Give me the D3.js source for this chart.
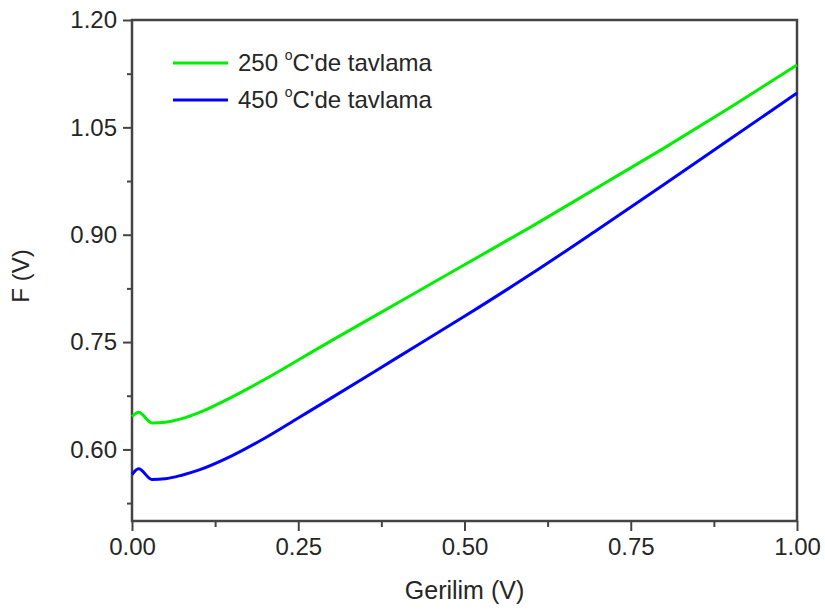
<!DOCTYPE html>
<html>
<head>
<meta charset="utf-8">
<script src="https://cdn.jsdelivr.net/npm/d3@7"></script>
<style>
  body { margin: 0; background: #fff; }
  svg text { font-family: "Liberation Sans", Arial, sans-serif; fill: #262626; }
</style>
</head>
<body>
<svg id="chart" width="825" height="613"></svg>
<script>
// data
var voltage = [0, 0.01, 0.03, 0.05, 0.075, 0.1, 0.15, 0.2, 0.25, 0.3, 0.4, 0.5, 0.6, 0.7, 0.8, 0.9, 1.0]
var f250 = [0.646, 0.652, 0.637, 0.638, 0.643, 0.651, 0.673, 0.698, 0.725, 0.752, 0.805, 0.858, 0.911, 0.966, 1.021, 1.078, 1.137]
var f450 = [0.565, 0.573, 0.558, 0.559, 0.564, 0.571, 0.591, 0.616, 0.644, 0.672, 0.729, 0.786, 0.845, 0.907, 0.970, 1.034, 1.098]
var seriesNames = ["250", "450"]
var xTicks = [0, 0.25, 0.5, 0.75, 1.0]
var xMinor = [0.125, 0.375, 0.625, 0.875]
var yTicks = [0.60, 0.75, 0.90, 1.05, 1.20]
var yMinor = [0.525, 0.675, 0.825, 0.975, 1.125]
var colors = ["#00ee00", "#0000ff"]

var svg = d3.select("#chart")
// plot box (window.top is taken, so plotTop etc.)
var plotLeft = 132, plotRight = 797, plotTop = 20, plotBottom = 521

var x = d3.scaleLinear().domain([0, 1]).range([plotLeft, plotRight])
var y = d3.scaleLinear().domain([0.5, 1.2]).range([plotBottom, plotTop])

// minor ticks first, majors on top
svg.append("g").attr("transform", "translate(0," + plotBottom + ")")
  .call(d3.axisBottom(x).tickValues(xMinor).tickSize(6).tickFormat(""))
svg.append("g").attr("transform", "translate(" + plotLeft + ",0)")
  .call(d3.axisLeft(y).tickValues(yMinor).tickSize(5).tickFormat(""))

svg.append("g").attr("transform", "translate(0," + plotBottom + ")")
  .call(d3.axisBottom(x).tickValues(xTicks).tickSize(10).tickPadding(7).tickFormat(d3.format(".2f")))
svg.append("g").attr("transform", "translate(" + plotLeft + ",0)")
  .call(d3.axisLeft(y).tickValues(yTicks).tickSize(9).tickPadding(6).tickFormat(d3.format(".2f")))

svg.selectAll(".domain").remove()
svg.selectAll(".tick line").attr("stroke", "#444").attr("stroke-width", 2)
svg.selectAll(".tick text").attr("font-size", 24).attr("fill", "#262626")

// frame
svg.append("rect")
  .attr("x", plotLeft).attr("y", plotTop)
  .attr("width", plotRight - plotLeft).attr("height", plotBottom - plotTop)
  .attr("fill", "none").attr("stroke", "#444").attr("stroke-width", 2.5)

var line = d3.line()
  .x(function(d) { return x(d[0]) })
  .y(function(d) { return y(d[1]) })
  .curve(d3.curveMonotoneX)

var series = [f250, f450]
series.forEach(function(vals, i) {
  svg.append("path")
    .datum(voltage.map(function(v, j) { return [v, vals[j]] }))
    .attr("d", line)
    .attr("fill", "none")
    .attr("stroke", colors[i])
    .attr("stroke-width", 3)
})

// legend
var legend = svg.selectAll(".legend")
  .data(seriesNames)
  .enter().append("g")
  .attr("transform", function(d, i) { return "translate(173," + (63 + i * 37) + ")" })

legend.append("line")
  .attr("x1", 0).attr("x2", 55)
  .attr("stroke", function(d, i) { return colors[i] })
  .attr("stroke-width", 3)

var lt = legend.append("text")
  .attr("x", 65).attr("y", 8)
  .attr("font-size", 24)
lt.append("tspan").text(function(d) { return d + " " })
lt.append("tspan").attr("font-size", 14).attr("dy", -11).text("o")
lt.append("tspan").attr("dy", 11).text("C'de tavlama")

// axis titles
svg.append("text")
  .attr("x", (plotLeft + plotRight) / 2).attr("y", 599)
  .attr("text-anchor", "middle").attr("font-size", 25)
  .text("Gerilim (V)")

svg.append("text")
  .attr("transform", "translate(29,276) rotate(-90)")
  .attr("text-anchor", "middle").attr("font-size", 24)
  .text("F (V)")
</script>
</body>
</html>
